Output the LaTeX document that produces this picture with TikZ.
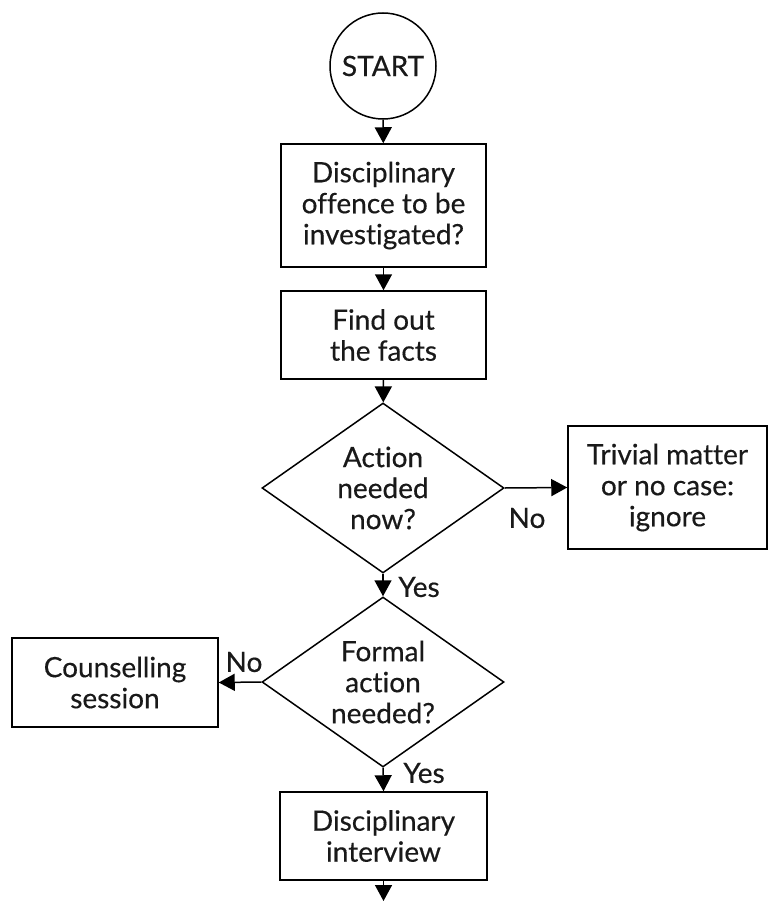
\documentclass[tikz,border=0pt]{standalone}
\usepackage{fontspec}
\setmainfont{Lato}[Ligatures={NoCommon}, FakeBold=0.4]
\usetikzlibrary{arrows.meta,shapes.geometric}
\begin{document}
\begin{tikzpicture}[x=1pt,y=-1pt,
  every node/.style={font=\fontsize{28}{31}\selectfont, text=black!90},
  box/.style={draw, line width=1.5pt, rectangle, align=center, inner sep=0pt},
  dia/.style={draw, line width=1.5pt, diamond, align=center, inner sep=0pt, aspect=1.42, minimum width=242pt, minimum height=170pt},
  arr/.style={line width=1.5pt, -{Triangle[length=16pt,width=17pt]}},
  lbl/.style={inner sep=0pt}
]
\useasboundingbox (0,0) rectangle (769,901);
\node[draw, circle, line width=1.5pt, minimum size=106pt, inner sep=0pt] (start) at (383,66) {START};
\node[box, minimum width=205pt, minimum height=123pt] (b1) at (383.5,205.5) {Disciplinary\\offence to be\\investigated?};
\node[box, minimum width=205pt, minimum height=88pt] (b2) at (383.5,335) {Find out\\the facts};
\node[dia] (d1) at (383,488) {Action\\needed\\now?};
\node[box, minimum width=199pt, minimum height=123pt] (triv) at (667.5,487.5) {Trivial matter\\or no case:\\ignore};
\node[dia] (d2) at (383,682) {Formal\\action\\needed?};
\node[box, minimum width=206pt, minimum height=89pt] (couns) at (115,682.5) {Counselling\\session};
\node[box, minimum width=207pt, minimum height=88pt] (b4) at (383.5,836) {Disciplinary\\interview};
\coordinate (end) at (383.5,901);
\node[lbl] (no1) at (527,518) {No};
\node[lbl] (yes1) at (419,587) {Yes};
\node[lbl] (no2) at (244,662) {No};
\node[lbl] (yes2) at (424,773) {Yes};
\draw[arr] (start) -- (b1);
\draw[arr] (b1) -- (b2);
\draw[arr] (b2) -- (d1);
\draw[arr] (d1.east) -- (triv.west);
\draw[arr] (d1.south) -- (d2.north);
\draw[arr] (d2.west) -- (couns.east);
\draw[arr] (d2.south) -- (b4.north);
\draw[arr] (b4.south) -- (end);
\end{tikzpicture}
\end{document}
